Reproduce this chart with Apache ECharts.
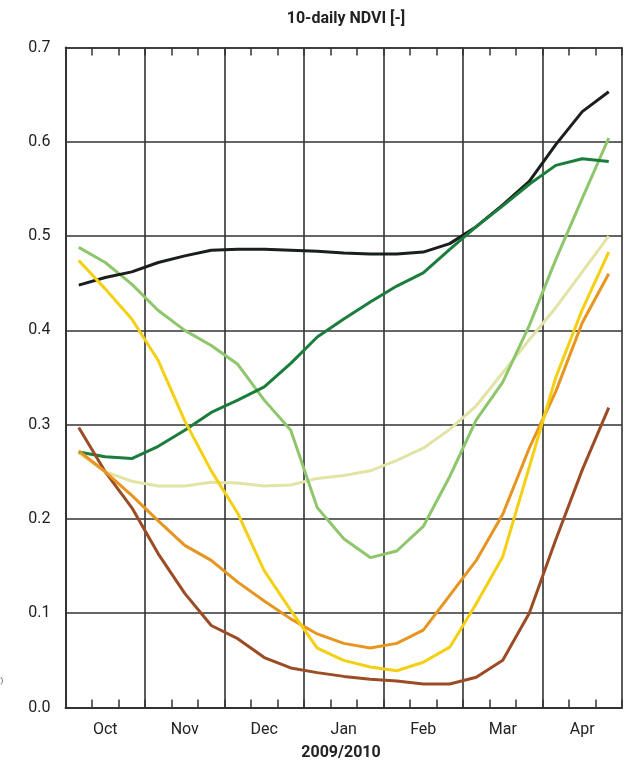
<!DOCTYPE html>
<html><head><meta charset="utf-8">
<script src="https://cdn.jsdelivr.net/npm/echarts@6/dist/echarts.min.js"></script>
<style>html,body{margin:0;padding:0;background:#fff}#c{width:625px;height:764px}</style>
</head><body><div id="c"></div>
<script>
const months = ['Oct','Nov','Dec','Jan','Feb','Mar','Apr'];
const yTicks = [0,0.1,0.2,0.3,0.4,0.5,0.6,0.7];
const seriesNames = ['s1','s2','s3','s4','s5','s6','s7'];
const darkest   = [0.448,0.456,0.462,0.472,0.479,0.485,0.486,0.486,0.485,0.484,0.482,0.481,0.481,0.483,0.492,0.510,0.533,0.558,0.597,0.632,0.653];
const darkGreen = [0.271,0.266,0.264,0.277,0.294,0.313,0.326,0.340,0.365,0.393,0.412,0.430,0.447,0.461,0.486,0.510,0.532,0.555,0.575,0.582,0.579];
const lightGreen= [0.488,0.472,0.449,0.421,0.400,0.384,0.364,0.326,0.294,0.212,0.179,0.159,0.166,0.192,0.245,0.305,0.345,0.405,0.475,0.540,0.604];
const pale      = [0.270,0.250,0.240,0.235,0.235,0.239,0.238,0.235,0.236,0.243,0.246,0.251,0.262,0.275,0.295,0.320,0.355,0.390,0.424,0.462,0.500];
const yellow    = [0.474,0.444,0.412,0.368,0.304,0.251,0.206,0.145,0.103,0.063,0.050,0.043,0.039,0.048,0.064,0.110,0.160,0.255,0.350,0.422,0.483];
const orange    = [0.272,0.250,0.225,0.198,0.172,0.156,0.133,0.113,0.094,0.078,0.068,0.063,0.068,0.082,0.119,0.156,0.205,0.275,0.335,0.408,0.460];
const brown     = [0.297,0.250,0.212,0.163,0.121,0.087,0.073,0.053,0.042,0.037,0.033,0.030,0.028,0.025,0.025,0.032,0.050,0.100,0.178,0.252,0.318];
const colors = ['#1b1f1b','#1a7d3c','#8ec66c','#e2e4a6','#f4cf12','#e8951f','#9b4c25'];
const allData = [darkest, darkGreen, lightGreen, pale, yellow, orange, brown];
// dekad index i plotted at centre i+0.5 (x in dekad units)
const dekadPos = darkest.map((_, i) => i + 0.5);

const FONT = 'Roboto, "Liberation Sans", sans-serif';
const chart = echarts.init(document.getElementById('c'), null, {renderer: 'canvas'});
const gridCol = '#333';
const plotSeries = allData.map((arr, k) => ({
  name: seriesNames[k], type: 'line', xAxisIndex: 0, yAxisIndex: 0,
  data: arr.map((v, i) => [dekadPos[i], v]),
  showSymbol: false, smooth: false,
  lineStyle: {color: colors[k], width: 3},
  z: 3
}));
const order = [3,2,0,1,6,5,4];
const orderedSeries = order.map(k => plotSeries[k]);

chart.setOption({
  animation: false,
  backgroundColor: '#fff',
  grid: {left: 65.5, right: -5, top: 47.5, bottom: 56.5, containLabel: false},
  xAxis: [
    { type: 'value', position: 'bottom', min: 0, max: 21, interval: 1,
      axisLine: {show: true, lineStyle: {color: gridCol, width: 2}},
      axisTick: {show: true, inside: true, length: 8, lineStyle: {color: gridCol, width: 1.5}},
      axisLabel: {show: false}, splitLine: {show: false} },
    { type: 'value', position: 'bottom', min: 0, max: 21, interval: 3,
      axisLine: {show: false}, axisTick: {show: false}, axisLabel: {show: false},
      splitLine: {show: true, lineStyle: {color: gridCol, width: 1.6}} },
    { type: 'value', position: 'bottom', min: 0, max: 21, interval: 1.5,
      axisLine: {show: false}, axisTick: {show: false}, splitLine: {show: false},
      axisLabel: {show: true, margin: 14, color: '#222', fontSize: 16, fontFamily: FONT,
        formatter: v => { const k = Math.round(v / 1.5); return k % 2 === 1 ? months[(k - 1) / 2] : ''; } } },
    { type: 'value', position: 'top', min: 0, max: 21, interval: 1,
      axisLine: {show: true, lineStyle: {color: gridCol, width: 1.6}},
      axisTick: {show: true, inside: true, length: 8, lineStyle: {color: gridCol, width: 1.5}},
      axisLabel: {show: false}, splitLine: {show: false} }
  ],
  yAxis: [{ type: 'value', min: 0, max: 0.7, interval: 0.1,
    axisLine: {show: true, lineStyle: {color: gridCol, width: 2}},
    axisTick: {show: false},
    axisLabel: {margin: 15, color: '#222', fontSize: 16, fontFamily: FONT, formatter: v => v.toFixed(1)},
    splitLine: {show: true, lineStyle: {color: gridCol, width: 1.6}} }],
  series: orderedSeries,
  graphic: [
    {type: 'text', x: 346, y: 19, style: {text: '10-daily NDVI [-]', align: 'center', verticalAlign: 'middle', font: 'bold 16px ' + FONT, fill: '#222'}},
    {type: 'text', x: 341, y: 753, style: {text: '2009/2010', align: 'center', verticalAlign: 'middle', font: 'bold 16px ' + FONT, fill: '#222'}},
    {type: 'text', x: -4, y: 681, style: {text: 'E)', verticalAlign: 'middle', font: '8px ' + FONT, fill: '#444'}}
  ]
});
</script></body></html>
